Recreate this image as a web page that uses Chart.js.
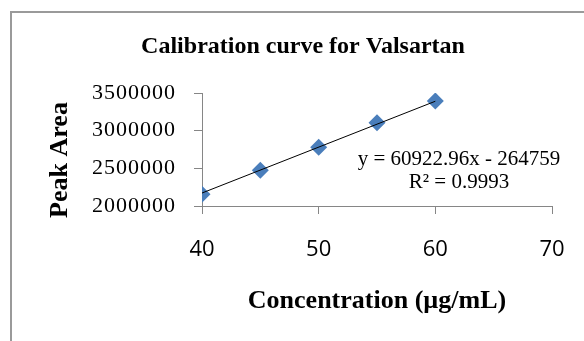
<!DOCTYPE html>
<html>
<head>
<meta charset="utf-8">
<script src="https://cdn.jsdelivr.net/npm/chart.js@4/dist/chart.umd.min.js"></script>
<style>
    html, body { margin: 0; padding: 0; background: #fff; }
    #wrap { width: 584px; height: 341px; }
</style>
</head>
<body>
<div id="wrap"><canvas id="calChart" width="584" height="341"></canvas></div>
<script>
// datos
const concentrations = [40, 45, 50, 55, 60];
const peakAreas = [2155000, 2474000, 2779000, 3106000, 3394000];
const trendX = [40, 60];
const trendY = [2172159, 3390619];
const xTicks = [40, 50, 60, 70];
const yTicks = [2000000, 2500000, 3000000, 3500000];

const chartTitle = 'Calibration curve for Valsartan';
const yTitle = 'Peak Area';
const xTitle = 'Concentration (\u00b5g/mL)';
const equationLines = ['y = 60922.96x - 264759', 'R\u00b2 = 0.9993'];

const axisGray = '#868686';

// marco gris y textos al estilo Excel
const excelText = {
    id: 'excelText',
    beforeDraw(chart) {
        const ctx = chart.ctx;
        ctx.save();
        ctx.fillStyle = '#fff';
        ctx.fillRect(0, 0, chart.width, chart.height);
        ctx.strokeStyle = '#9a9a9a';
        ctx.lineWidth = 2;
        ctx.strokeRect(11, 12, chart.width + 20, chart.height + 20);
        ctx.restore();
    },
    afterDraw(chart) {
        const ctx = chart.ctx;
        const area = chart.chartArea;
        ctx.save();
        ctx.fillStyle = '#000';
        ctx.textAlign = 'center';
        ctx.textBaseline = 'middle';

        ctx.font = 'bold 24px "Liberation Serif"';
        ctx.fillText(chartTitle, 303, 47);

        ctx.font = 'bold 26px "Liberation Serif"';
        ctx.fillText(xTitle, (area.left + area.right) / 2, 301);

        ctx.save();
        ctx.translate(60, 160);
        ctx.rotate(-Math.PI / 2);
        ctx.fillText(yTitle, 0, 0);
        ctx.restore();

        ctx.font = '21px "Liberation Serif"';
        ctx.fillText(equationLines[0], area.right - 93, 159);
        ctx.fillText(equationLines[1], area.right - 93, 182);
        ctx.restore();
    }
};

new Chart(document.getElementById('calChart'), {
    type: 'scatter',
    data: {
        datasets: [{
            type: 'line',
            label: 'Linear',
            data: trendX.map((x, i) => ({ x: x, y: trendY[i] })),
            borderColor: '#000',
            borderWidth: 1,
            pointRadius: 0,
            fill: false
        }, {
            label: 'Peak Area',
            data: concentrations.map((x, i) => ({ x: x, y: peakAreas[i] })),
            pointStyle: 'rectRot',
            pointRadius: 8.5,
            pointHoverRadius: 8.5,
            backgroundColor: '#4a7ebb',
            borderColor: '#4a7ebb',
            borderWidth: 0
        }]
    },
    options: {
        responsive: false,
        animation: false,
        layout: { padding: { top: 93, right: 32, left: 0, bottom: 0 } },
        plugins: {
            legend: { display: false },
            tooltip: { enabled: false }
        },
        scales: {
            x: {
                type: 'linear',
                min: xTicks[0],
                max: xTicks[xTicks.length - 1],
                afterBuildTicks: scale => { scale.ticks = xTicks.map(v => ({ value: v })); },
                afterFit: scale => {
                    scale.height = 135;
                    scale.paddingLeft = 0;
                    scale.paddingRight = 0;
                },
                grid: { drawOnChartArea: false, drawTicks: true, tickLength: 8, color: axisGray },
                border: { color: axisGray },
                ticks: {
                    color: '#000',
                    padding: 23,
                    font: { family: '"Open Sans"', size: 22 }
                }
            },
            y: {
                type: 'linear',
                min: yTicks[0],
                max: yTicks[yTicks.length - 1],
                afterBuildTicks: scale => { scale.ticks = yTicks.map(v => ({ value: v })); },
                afterFit: scale => {
                    scale.width = 202;
                    // los numeros del eje Y van mas espaciados en el original
                    if (!scale._spaced) {
                        const orig = scale.drawLabels;
                        scale.drawLabels = function (area) {
                            this.ctx.save();
                            this.ctx.letterSpacing = '1px';
                            orig.call(this, area);
                            this.ctx.restore();
                        };
                        scale._spaced = true;
                    }
                },
                grid: { drawOnChartArea: false, drawTicks: true, tickLength: 8, color: axisGray },
                border: { color: axisGray },
                ticks: {
                    color: '#000',
                    padding: 18,
                    font: { family: '"Liberation Serif"', size: 22 },
                    callback: v => String(v)
                }
            }
        }
    },
    plugins: [excelText]
});
</script>
</body>
</html>
